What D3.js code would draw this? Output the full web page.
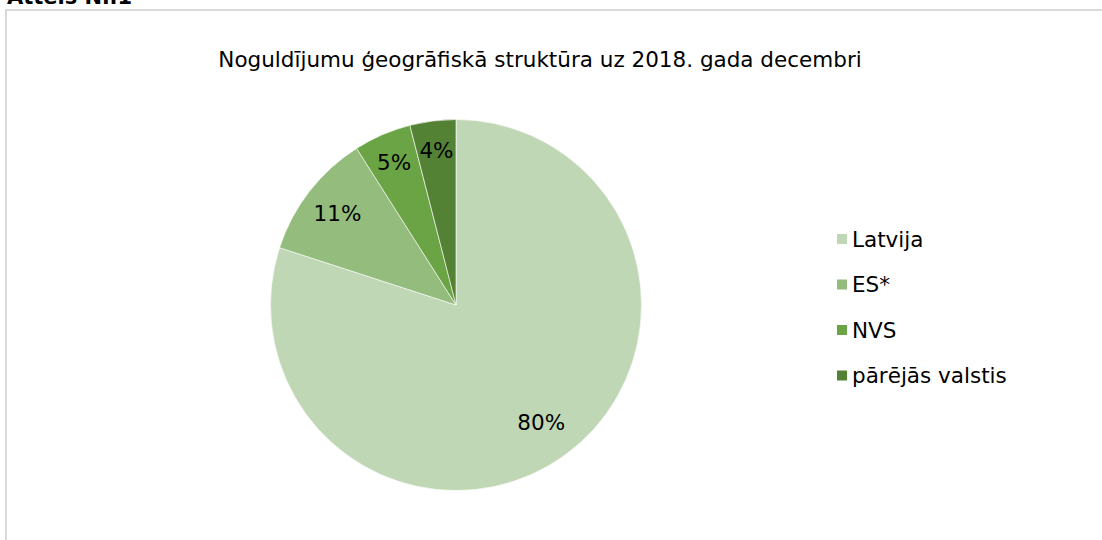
<!DOCTYPE html>
<html>
<head>
<meta charset="utf-8">
<script src="https://d3js.org/d3.v7.min.js"></script>
<style>
    body { margin: 0; background: #fff; }
    svg text { font-family: "DejaVu Sans", Verdana, sans-serif; fill: #000; }
</style>
</head>
<body>
<svg width="1102" height="540"></svg>
<script>
    // chart data
    var categories = ["Latvija", "ES*", "NVS", "pārējās valstis"];
    var shares = [80, 11, 5, 4];
    var colors = ["#bfd7b5", "#93bc7d", "#6aa444", "#548235"];
    var title = "Noguldījumu ģeogrāfiskā struktūra uz 2018. gada decembri";
    var caption = "Attēls Nr.1";

    var svg = d3.select("svg");

    // caption above the chart frame (cut off at top in the original)
    svg.append("text")
        .attr("x", 7).attr("y", 4)
        .style("font-weight", "bold")
        .style("font-size", "21px")
        .text(caption);

    // chart frame
    svg.append("path")
        .attr("d", "M6,560 L6,10 L1110,10")
        .attr("fill", "none")
        .attr("stroke", "#d9d9d9")
        .attr("stroke-width", 2);

    svg.append("text")
        .attr("x", 540).attr("y", 67)
        .attr("text-anchor", "middle")
        .style("font-size", "21.5px")
        .text(title);

    var cx = 456, cy = 305, radius = 185.5;
    // clockwise from 12 o'clock
    var pie = d3.pie().sort(null).value(function (d) { return d; });
    var arcs = pie(shares);
    var arc = d3.arc().innerRadius(0).outerRadius(radius);

    var g = svg.append("g").attr("transform", "translate(" + cx + "," + cy + ")");

    g.selectAll("path.slice").data(arcs).enter().append("path")
        .attr("class", "slice")
        .attr("d", arc)
        .attr("fill", function (d, i) { return colors[i]; })
        .attr("stroke", "#fff")
        .attr("stroke-width", 0.6);

    g.selectAll("text.lbl").data(arcs).enter().append("text")
        .attr("class", "lbl")
        .attr("transform", function (d) {
            var a = (d.startAngle + d.endAngle) / 2;
            var r = d.data > 50 ? 145 : (d.data > 10 ? 150 : 156);
            return "translate(" + (Math.sin(a) * r) + "," + (-Math.cos(a) * r) + ")";
        })
        .attr("text-anchor", "middle")
        .attr("dy", "0.36em")
        .style("font-size", "21.5px")
        .text(function (d) { return d.data + "%"; });

    // legend
    var legend = svg.append("g").attr("transform", "translate(837,239)");
    var rows = legend.selectAll("g").data(categories).enter().append("g")
        .attr("transform", function (d, i) { return "translate(0," + (i * 45.5) + ")"; });
    rows.append("rect")
        .attr("x", 0).attr("y", -5)
        .attr("width", 10).attr("height", 10)
        .attr("fill", function (d, i) { return colors[i]; });
    rows.append("text")
        .attr("x", 15).attr("dy", "0.36em")
        .style("font-size", "21.5px")
        .text(function (d) { return d; });
</script>
</body>
</html>
